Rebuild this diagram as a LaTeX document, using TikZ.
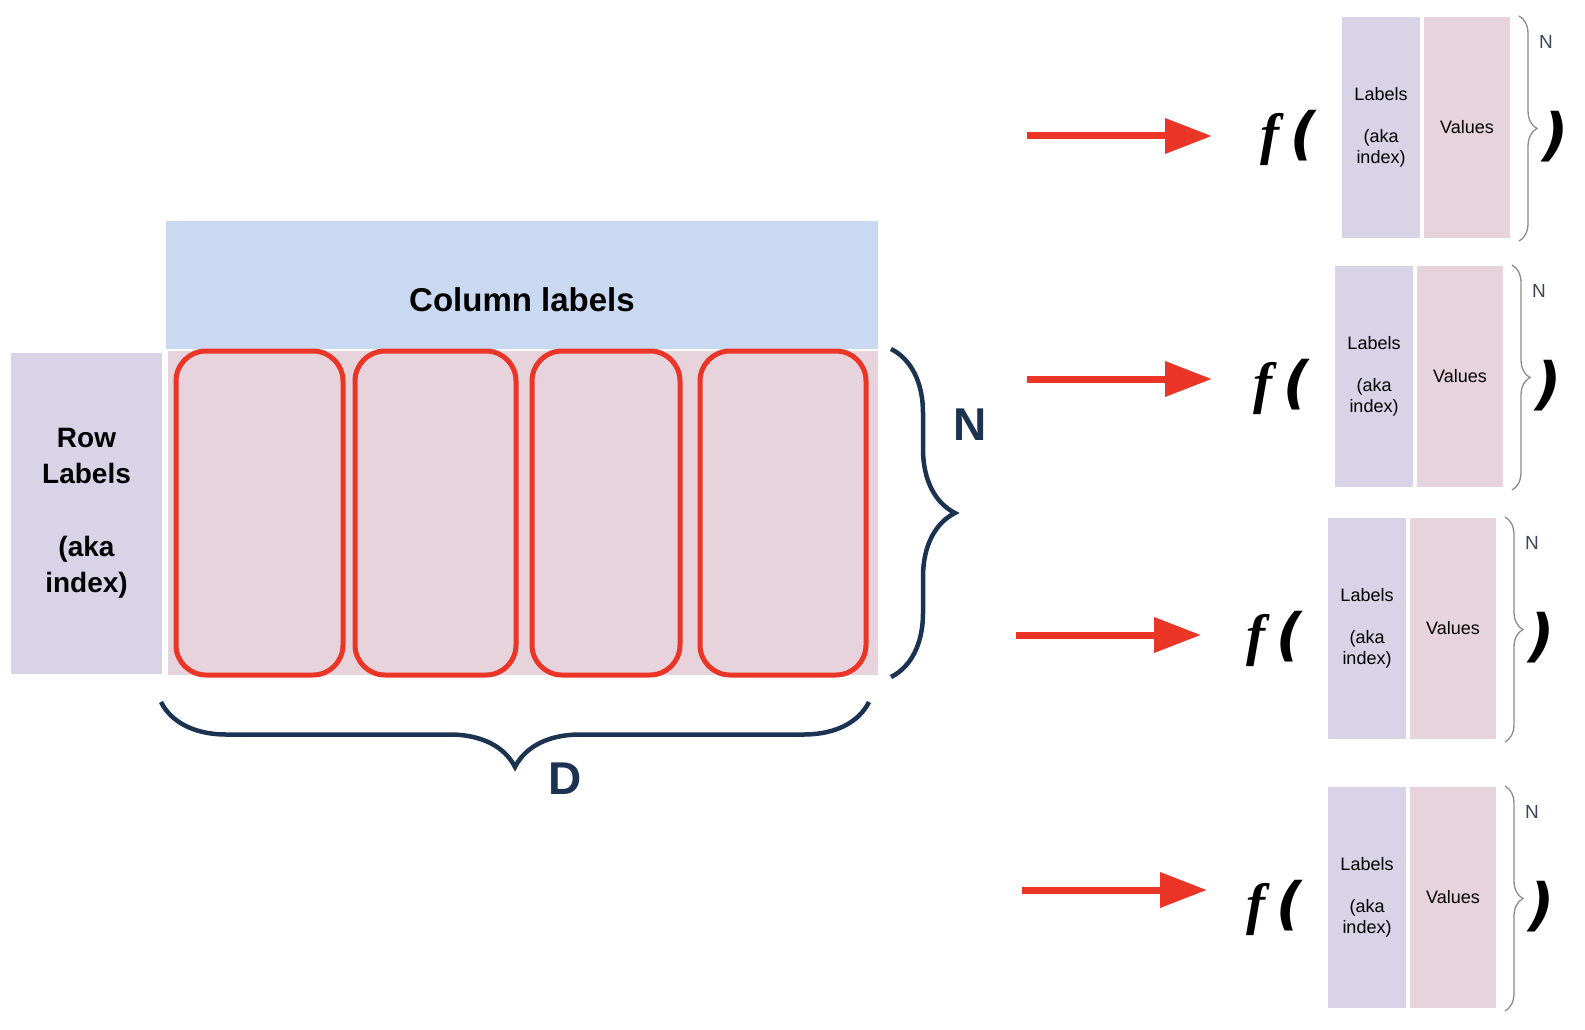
\documentclass[tikz,border=0pt]{standalone}
\usepackage{fontspec}
\setmainfont{Liberation Sans}
\newfontfamily\funcfont{Liberation Serif}
\newfontfamily\parenfont{DejaVu Sans}
\usetikzlibrary{arrows.meta,decorations.pathreplacing,positioning}

\definecolor{rowlav}{HTML}{D8D3E6}
\definecolor{cellpink}{HTML}{E6D3DB}
\definecolor{headblue}{HTML}{CAD9F2}
\definecolor{flowred}{HTML}{EA3527}
\definecolor{bracenavy}{HTML}{1B3350}
\definecolor{bracegray}{HTML}{8C8C8C}
\definecolor{ngray}{HTML}{3D4657}

\begin{document}
\begin{tikzpicture}[x=1pt,y=-1pt,
  box/.style={inner sep=0pt,outer sep=0pt,anchor=north west},
  cellbox/.style={draw=flowred,line width=5pt,rounded corners=30pt,inner sep=0pt},
  bigbrace/.style={draw=bracenavy,line width=4.5pt,decorate,decoration={brace,amplitude=#1}},
  smallbrace/.style={draw=bracegray,line width=1.3pt,decorate,decoration={brace,amplitude=18pt}},
  flowarrow/.style={draw=flowred,line width=7pt,-{Triangle[length=47pt,width=34pt]}},
  navylabel/.style={font=\fontsize{46}{50}\selectfont\bfseries,text=bracenavy,inner sep=0pt},
  smalltext/.style={font=\fontsize{18}{21.5}\selectfont,align=center},
  functext/.style={inner sep=0pt,font=\fontsize{57}{64}\selectfont},
]
\useasboundingbox (0,0) rectangle (1585,1030);

% data frame
\node[box,fill=headblue,minimum width=712pt,minimum height=128pt] (colhead) at (166,221) {};
\node[font=\fontsize{33}{40}\selectfont\bfseries,inner sep=0pt] (coltxt) at (522,300) {Column labels};
\node[box,fill=cellpink,minimum width=710pt,minimum height=324pt] (body) at (168,351) {};
\node[box,fill=rowlav,minimum width=151pt,minimum height=321pt] (rowlab) at (11,353) {};
\node[font=\fontsize{28}{35.5}\selectfont\bfseries,align=center] (rowtxt) at (rowlab.center) {Row\\Labels\\[38pt](aka\\index)};
\foreach \l/\r [count=\i] in {176/343,355/516,532/680,700/866}{%
  \node[cellbox,minimum width=\r-\l,minimum height=324pt] (cell\i) at ({(\l+\r)/2},513) {};
}
\draw[bigbrace=64pt] (891,349) -- (891,677);
\node[navylabel] (nlab) at (970,425) {N};
\draw[bigbrace=65pt] (869,702) -- (161,702);
\node[navylabel] (dlab) at (565,779) {D};

% one function call per column
\foreach \L/\T/\ax/\ay/\sh [count=\g] in {1342/17/1027/136/48,1335/266/1027/379/41,1328/518/1016/635/45,1328/787/1022/890/39}{%
  \node[box,fill=rowlav,minimum width=78pt,minimum height=221pt] (lab\g) at (\L,\T) {};
  \node[smalltext] at (lab\g.center) {Labels\\[20pt](aka\\index)};
  \node[box,fill=cellpink,minimum width=86pt,minimum height=221pt] (val\g) at (\L+82,\T) {};
  \node[smalltext] at (val\g.center) {Values};
  \draw[smallbrace] (\L+177,\T-1) -- (\L+177,\T+224);
  \node[font=\fontsize{19}{22}\selectfont,text=ngray,inner sep=0pt] at (\L+204,\T+25) {N};
  \node[functext,anchor=west] (fn\g) at (\L-82,\T+121) {\funcfont\bfseries\itshape f\hspace{11pt}\parenfont (};
  \node[functext] (cp\g) at (\L+214,\T+120) {\parenfont\bfseries\itshape )};
  \coordinate (src\g) at (\ax,\ay);
  \draw[flowarrow,shorten >=\sh pt] (src\g) -- (src\g -| fn\g.west);
}
\end{tikzpicture}
\end{document}
